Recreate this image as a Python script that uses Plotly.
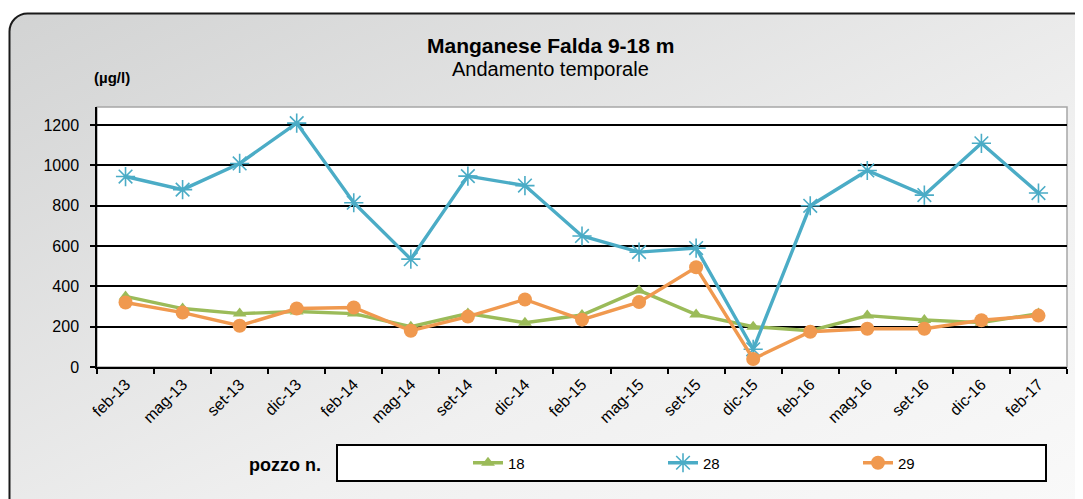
import plotly.graph_objects as go
import urllib.parse

categories = ["feb-13", "mag-13", "set-13", "dic-13", "feb-14", "mag-14", "set-14", "dic-14",
              "feb-15", "mag-15", "set-15", "dic-15", "feb-16", "mag-16", "set-16", "dic-16", "feb-17"]
pozzo_18 = [350, 290, 265, 275, 265, 200, 265, 220, 258, 380, 260, 200, 180, 255, 233, 220, 265]
pozzo_28 = [945, 880, 1010, 1210, 815, 535, 947, 900, 650, 570, 590, 88, 800, 975, 853, 1110, 863]
pozzo_29 = [320, 270, 205, 290, 295, 180, 250, 335, 235, 322, 495, 40, 175, 190, 190, 232, 255]
series_names = ["18", "28", "29"]
y_ticks = [0, 200, 400, 600, 800, 1000, 1200]

OFF = 8  # page body margin
W, H = 1083 - OFF, 499 - OFF
L, R, T, B = 97, 1067, 107, 367  # plot area in reference pixels
PW, PH = R - L, B - T


def px_x(p):
    return (p - L) / PW


def px_y(p):
    return (B - p) / PH


fig = go.Figure()
styles = [
    dict(color="#9BBB59", symbol="triangle-up", size=12, lw=0),
    dict(color="#4BACC6", symbol="asterisk-open", size=16, lw=1.6),
    dict(color="#F0994F", symbol="circle", size=14, lw=0),
]
for name, vals, st in zip(series_names, [pozzo_18, pozzo_28, pozzo_29], styles):
    fig.add_trace(go.Scatter(
        x=categories, y=vals, name=name, mode="lines+markers",
        line=dict(color=st["color"], width=3.4),
        marker=dict(symbol=st["symbol"], size=st["size"], color=st["color"],
                    line=dict(color=st["color"], width=st["lw"])),
    ))

svg = (
    '<svg xmlns="http://www.w3.org/2000/svg" width="1100" height="520">'
    '<defs><linearGradient id="g" x1="0" y1="0" x2="1" y2="1">'
    '<stop offset="0" stop-color="#d2d3d3"/><stop offset="0.6" stop-color="#f0f0f0"/>'
    '<stop offset="1" stop-color="#fafafa"/></linearGradient></defs>'
    '<rect x="1.5" y="1.5" width="1096" height="516" rx="18" ry="18" fill="url(#g)" '
    'stroke="#1a1a1a" stroke-width="2"/></svg>'
)
src = "data:image/svg+xml;charset=utf-8," + urllib.parse.quote(svg)
fig.add_layout_image(dict(
    source=src, xref="paper", yref="paper",
    x=px_x(8), y=px_y(12), sizex=1100 / PW, sizey=520 / PH,
    xanchor="left", yanchor="top", sizing="stretch", layer="below",
))

# plot area (white, gray border)
fig.add_shape(type="rect", xref="paper", yref="paper", x0=0, x1=1, y0=0, y1=1,
              line=dict(color="#a6a6a6", width=1.5), fillcolor="white", layer="below")

# legend box
fig.add_shape(type="rect", xref="paper", yref="paper",
              x0=px_x(337), x1=px_x(1046), y0=px_y(481), y1=px_y(445),
              line=dict(color="black", width=2), fillcolor="white", layer="below")


def label(text, x, y, size):
    fig.add_annotation(text=text, xref="paper", yref="paper", x=px_x(x), y=px_y(y),
                       xanchor="center", yanchor="middle", showarrow=False,
                       font=dict(size=size, color="black"))


label("<b>pozzo n.</b>", 285, 465, 18)
label("<b>Manganese Falda 9-18 m</b>", 550, 46, 21)
label("Andamento temporale", 550, 69, 20)
label("<b>(µg/l)</b>", 112, 78, 15)

fig.update_layout(
    width=W, height=H,
    margin=dict(l=L - OFF, r=W - (R - OFF), t=T - OFF, b=H - (B - OFF), pad=0),
    paper_bgcolor="white", plot_bgcolor="white",
    font=dict(family="Liberation Sans, Arial, sans-serif", color="black", size=15),
    showlegend=True,
    legend=dict(orientation="h", x=px_x(468), y=px_y(463), xanchor="left", yanchor="middle",
                bgcolor="rgba(0,0,0,0)", entrywidth=150, entrywidthmode="pixels",
                font=dict(size=15), itemclick=False, tracegroupgap=0),
    xaxis=dict(type="category", showgrid=False, showline=True, linecolor="black", linewidth=1.5,
               ticks="outside", tickson="boundaries", ticklen=5, tickcolor="black", tickwidth=1.5,
               tickangle=-45, tickfont=dict(size=16), range=[-0.5, len(categories) - 0.5]),
    yaxis=dict(range=[0, 1290], tickvals=y_ticks, showgrid=True, gridcolor="black", gridwidth=1.6,
               showline=True, linecolor="black", linewidth=1.5, ticks="outside", ticklen=5,
               tickcolor="black", tickwidth=1.5, tickfont=dict(size=16), zeroline=False,
               ticklabelstandoff=8),
)

fig.write_html("out.html")
